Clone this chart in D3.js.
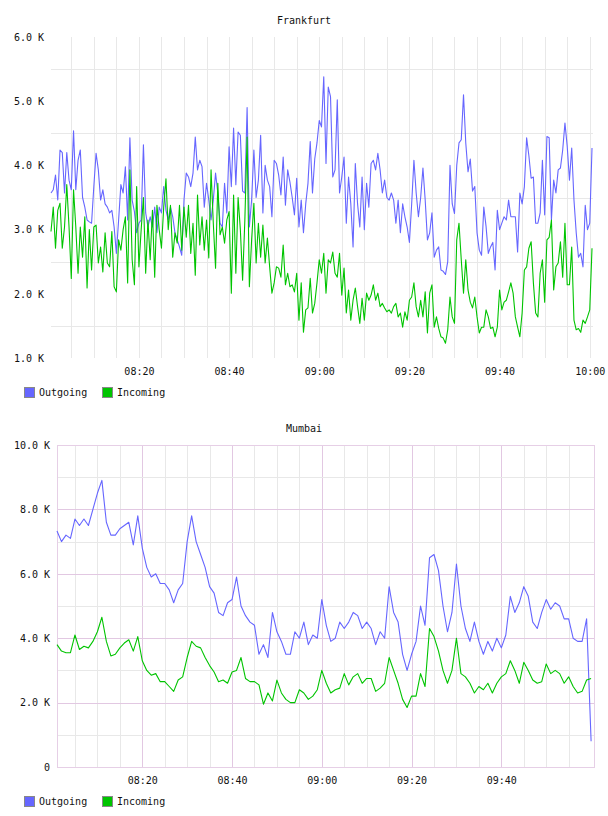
<!DOCTYPE html>
<html>
<head>
<meta charset="utf-8">
<script src="https://cdn.jsdelivr.net/npm/d3@7/dist/d3.min.js"></script>
<style>
  body { margin: 0; background: #fff; }
  text { font-family: "DejaVu Sans Mono", monospace; font-size: 10px; fill: #111; }
</style>
</head>
<body>
<div id="chart"></div>
<script>
// Frankfurt, one sample every 30 s from 08:00:30 (values in K)
const fraOutgoing = [
  3.57, 3.62, 3.85, 3.46, 4.24, 4.2, 3.57, 4.2, 3.77, 3.62,
  4.54, 3.62, 4.08, 4.24, 3.5, 3.35, 3.15, 3.12, 3.1, 3.67,
  4.19, 3.93, 3.46, 3.62, 3.4, 3.35, 3.26, 3.3, 3.04, 2.63,
  3.15, 3.7, 3.57, 3.98, 3.15, 4.43, 3.46, 3.28, 2.95, 3.1,
  3.15, 4.32, 3.26, 3.04, 3.2, 3.04, 3.35, 2.95, 3.35, 3.26,
  3.67, 3.3, 3.15, 3.35, 3.2, 2.95, 2.84, 2.73, 2.6, 3.46,
  3.88, 3.82, 3.67, 3.88, 4.44, 3.93, 4.08, 3.98, 3.35, 3.72,
  3.46, 3.15, 3.46, 3.88, 3.57, 3.1, 3.04, 3.72, 3.26, 4.29,
  3.67, 4.58, 3.7, 4.52, 4.47, 3.6, 3.57, 4.9, 3.04, 3.46,
  4.24, 3.5, 3.77, 4.47, 3.26, 4.0, 3.77, 3.67, 3.2, 4.08,
  4.03, 3.85, 3.54, 4.13, 3.38, 3.93, 3.74, 3.5, 3.23, 3.8,
  3.04, 3.46, 2.95, 3.4, 3.72, 4.37, 3.57, 4.1, 4.35, 4.7,
  4.6, 5.38, 4.03, 5.22, 5.07, 3.82, 3.93, 5.02, 3.57, 3.82,
  4.13, 3.1, 3.82, 3.4, 2.73, 4.03, 3.4, 3.04, 3.82, 3.0,
  3.72, 3.35, 4.03, 4.08, 3.93, 4.19, 3.93, 3.57, 3.77, 3.5,
  3.46, 3.57, 3.46, 3.1, 3.46, 2.95, 3.4, 3.2, 3.04, 2.8,
  3.4, 4.08, 3.57, 3.2, 3.5, 3.96, 3.46, 2.84, 2.95, 3.26,
  2.57, 2.68, 2.73, 2.37, 2.35, 2.3, 2.5, 4.0, 3.4, 3.25,
  4.0, 4.35, 4.4, 5.1, 4.35, 3.9, 4.1, 3.6, 3.67, 2.95,
  2.68, 2.6, 3.35, 3.05, 2.63, 2.73, 2.8, 2.37, 3.3, 3.0,
  3.1, 3.2, 3.15, 3.46, 3.2, 3.2, 3.2, 2.65, 3.57, 3.4,
  3.67, 4.43, 4.15, 3.8, 3.82, 3.1, 3.1, 3.26, 4.08, 3.23,
  4.45, 4.43, 3.15, 3.77, 3.57, 3.93, 3.96, 4.24, 4.66, 4.3,
  3.77, 4.27, 3.46, 2.95, 2.57, 2.63, 2.42, 3.38, 3.0, 3.1, 4.27,
];
const fraIncoming = [
  2.97, 3.35, 2.71, 3.3, 3.41, 2.71, 3.04, 3.7, 3.04, 2.24,
  3.62, 3.04, 2.32, 3.04, 2.57, 3.2, 2.09, 3.0, 2.37, 3.04,
  3.07, 2.48, 2.73, 2.34, 2.95, 2.48, 2.42, 2.97, 2.11, 2.03,
  2.84, 2.68, 3.0, 3.2, 2.17, 3.93, 2.53, 2.14, 3.67, 2.42,
  3.0, 3.5, 2.32, 3.15, 2.53, 3.3, 2.26, 3.38, 3.0, 2.71,
  3.35, 3.79, 3.0, 3.38, 2.57, 2.95, 2.79, 3.38, 2.68, 3.35,
  2.88, 3.38, 2.63, 3.1, 2.29, 3.54, 2.76, 3.2, 2.68, 3.15,
  2.56, 3.93, 3.1, 2.4, 3.72, 2.92, 3.04, 2.79, 3.15, 3.28,
  2.01, 3.54, 2.32, 3.5, 3.0, 2.21, 3.15, 4.44, 2.11, 2.84,
  3.41, 2.48, 3.1, 2.57, 3.07, 2.48, 2.87, 2.42, 2.01, 2.17,
  2.42, 2.4, 2.26, 2.76, 2.14, 2.32, 2.11, 2.14, 2.03, 2.32,
  1.59, 2.17, 1.4, 1.75, 1.78, 2.24, 1.7, 1.85, 2.17, 2.53,
  2.32, 2.63, 2.01, 2.53, 2.48, 2.65, 2.32, 2.26, 2.63, 1.98,
  2.4, 1.7, 2.06, 1.59, 1.9, 2.09, 1.8, 1.54, 1.93, 1.59,
  2.01, 1.9, 1.98, 2.14, 1.9, 2.01, 1.8, 1.85, 1.78, 1.72,
  1.75, 1.7, 1.8, 1.85, 1.64, 1.7, 1.48, 1.72, 1.59, 1.9,
  1.95, 2.17, 1.8, 1.64, 1.9, 1.64, 2.03, 1.39, 2.01, 2.14,
  1.48, 1.64, 1.46, 1.33, 1.31, 1.23, 1.44, 1.95, 1.64, 1.54,
  2.84, 3.1, 2.53, 2.01, 2.53, 2.06, 1.87, 1.78, 1.95, 1.64,
  1.39, 1.48, 1.48, 1.75, 1.64, 1.46, 1.48, 1.33, 1.48, 2.06,
  1.75, 1.87, 1.9, 2.03, 2.17, 2.01, 1.64, 1.48, 1.33, 1.7,
  2.37, 2.42, 2.71, 2.81, 2.17, 1.7, 1.64, 2.32, 2.53, 1.87,
  2.84, 2.88, 3.15, 2.06, 2.42, 2.48, 2.81, 2.26, 3.1, 2.14,
  2.14, 2.73, 1.59, 1.44, 1.46, 1.4, 1.59, 1.54, 1.64, 1.75, 2.71,
];

// Mumbai, one sample per minute from 08:01 (values in K)
const mumOutgoing = [
  7.33, 7.0, 7.2, 7.1, 7.7, 7.5, 7.7, 7.5, 8.0, 8.5,
  8.9, 7.6, 7.2, 7.2, 7.4, 7.5, 7.6, 6.9, 7.8, 6.8,
  6.2, 5.9, 6.0, 5.7, 5.7, 5.5, 5.1, 5.5, 5.7, 7.0,
  7.8, 7.0, 6.6, 6.2, 5.6, 5.4, 4.8, 4.7, 5.1, 5.2,
  5.9, 5.0, 4.7, 4.5, 4.4, 3.5, 3.8, 3.4, 4.8, 4.2,
  3.9, 3.5, 3.5, 4.2, 4.0, 4.5, 3.8, 4.1, 4.0, 5.2,
  4.4, 3.9, 4.0, 4.5, 4.3, 4.5, 4.8, 4.7, 4.3, 4.5,
  4.3, 3.8, 4.2, 4.0, 5.6, 4.8, 4.5, 3.5, 3.0, 3.5,
  3.9, 5.0, 4.4, 6.5, 6.6, 6.1, 5.0, 4.2, 4.8, 6.3,
  5.0, 4.3, 3.9, 4.5, 3.9, 3.5, 3.9, 3.6, 4.0, 3.7,
  4.1, 5.3, 4.8, 5.1, 5.6, 5.3, 4.5, 4.3, 4.8, 5.2,
  4.9, 5.1, 5.0, 4.6, 4.6, 4.0, 3.9, 3.9, 4.6, 0.8,
];
const mumIncoming = [
  3.8, 3.6, 3.55, 3.55, 4.1, 3.65, 3.75, 3.7, 3.9, 4.2,
  4.65, 3.9, 3.45, 3.5, 3.7, 3.85, 3.95, 3.6, 4.05, 3.3,
  3.0, 2.85, 2.9, 2.65, 2.65, 2.5, 2.35, 2.7, 2.8, 3.4,
  3.9, 3.75, 3.7, 3.4, 3.15, 2.95, 2.65, 2.7, 2.6, 2.95,
  3.0, 3.4, 2.75, 2.65, 2.65, 2.55, 1.95, 2.3, 2.05, 2.7,
  2.3, 2.1, 2.0, 2.0, 2.4, 2.3, 2.1, 2.2, 2.4, 3.0,
  2.6, 2.3, 2.4, 2.45, 2.9, 2.55, 2.8, 2.9, 2.6, 2.75,
  2.75, 2.35, 2.45, 2.6, 3.4, 3.0, 2.6, 2.1, 1.85, 2.2,
  2.2, 2.9, 2.5, 4.3, 4.05, 3.6, 3.0, 2.6, 3.0, 4.0,
  2.9, 2.8, 2.6, 2.3, 2.5, 2.4, 2.6, 2.3, 2.6, 2.8,
  2.9, 3.3, 3.0, 2.6, 3.25, 3.0, 2.7, 2.6, 2.65, 3.2,
  2.9, 3.0, 2.9, 2.6, 2.8, 2.5, 2.3, 2.35, 2.7, 2.75,
];

const seriesNames = ['Outgoing', 'Incoming'];
const seriesColors = ['#6666ff', '#00c400'];
const timeLabels = ['08:20', '08:40', '09:00', '09:20', '09:40', '10:00'];
const fraYTicks = [1, 2, 3, 4, 5, 6];
const mumYTicks = [0, 2, 4, 6, 8, 10];

const day = (h, m, s = 0) => new Date(2020, 0, 1, h, m, s);
const parseLabel = (t) => day(+t.slice(0, 2), +t.slice(3, 5));
const series = (values, start, stepSec) => values.map((v, i) => ({
  t: new Date(start.getTime() + i * stepSec * 1000), v,
}));

const width = 608;
const height = 816;
const svg = d3.select('#chart')
  .append('svg')
  .attr('width', width)
  .attr('height', height);

const yLabel = (v) => (v === 0 ? '0' : `${d3.format('.1f')(v)} K`);

const renderPanel = (cfg) => {
  const {
    title, top, bottom, left, right, dataRight, start, end, yDomain,
    yTicks, labels, lines, boxed,
  } = cfg;
  const g = svg.append('g');
  const x = d3.scaleTime().domain([start, end]).range([left, dataRight]);
  const y = d3.scaleLinear().domain(yDomain).range([bottom, top]);

  g.append('text')
    .attr('x', width / 2)
    .attr('y', top - 13)
    .attr('text-anchor', 'middle')
    .text(title);

  // vertical grid every 5 minutes
  const minor = d3.timeMinute.every(5).range(start, end)
    .filter((t) => x(t) > left + 1 && x(t) <= right);
  g.append('g').selectAll('line')
    .data(minor)
    .join('line')
    .attr('x1', (d) => Math.round(x(d)) + 0.5)
    .attr('x2', (d) => Math.round(x(d)) + 0.5)
    .attr('y1', top)
    .attr('y2', bottom)
    .attr('stroke', (d) => (boxed && d.getMinutes() % 20 === 0 ? '#e2c8e2' : '#e8e8e8'));

  // horizontal grid
  const hLines = boxed
    ? d3.range(yDomain[0] + 1, yDomain[1], 1)
    : yTicks.slice(0, -1).map((v) => v + 0.5);
  g.append('g').selectAll('line')
    .data(hLines)
    .join('line')
    .attr('x1', left)
    .attr('x2', right)
    .attr('y1', (d) => Math.round(y(d)) + 0.5)
    .attr('y2', (d) => Math.round(y(d)) + 0.5)
    .attr('stroke', (d) => (boxed && d % 2 === 0 ? '#e2c8e2' : '#e8e8e8'));

  if (boxed) {
    g.append('rect')
      .attr('x', left + 0.5)
      .attr('y', Math.round(top) + 0.5)
      .attr('width', right - left)
      .attr('height', Math.round(bottom - top))
      .attr('fill', 'none')
      .attr('stroke', '#e6cfe6');
  }

  // axes
  const yAxis = g.append('g')
    .attr('transform', `translate(${left - 7},0)`)
    .call(d3.axisLeft(y).tickValues(yTicks).tickSize(0).tickPadding(0).tickFormat(yLabel));
  yAxis.select('.domain').remove();
  yAxis.selectAll('text').attr('font-family', null).attr('font-size', null);

  const xAxis = g.append('g')
    .attr('transform', `translate(0,${bottom + 10})`)
    .call(d3.axisBottom(x).tickValues(labels.map(parseLabel)).tickSize(0).tickPadding(0)
      .tickFormat(d3.timeFormat('%H:%M')));
  xAxis.select('.domain').remove();
  xAxis.selectAll('text').attr('font-family', null).attr('font-size', null);

  // series
  const line = d3.line().x((d) => x(d.t)).y((d) => y(d.v));
  lines.forEach((data, i) => {
    g.append('path')
      .datum(data)
      .attr('d', line)
      .attr('fill', 'none')
      .attr('stroke', seriesColors[i])
      .attr('stroke-width', 1.1)
      .attr('stroke-linejoin', 'round');
  });

  // legend
  const legendY = bottom + 29;
  const legend = g.append('g').attr('transform', `translate(24,${legendY})`);
  const offsets = [0, 78];
  seriesNames.forEach((name, i) => {
    legend.append('rect')
      .attr('x', offsets[i] + 0.5)
      .attr('y', 0.5)
      .attr('width', 10)
      .attr('height', 10)
      .attr('fill', seriesColors[i])
      .attr('stroke', '#888');
    legend.append('text')
      .attr('x', offsets[i] + 15)
      .attr('y', 9)
      .text(name);
  });
};

renderPanel({
  title: 'Frankfurt',
  top: 37,
  bottom: 358,
  left: 51,
  right: 593,
  dataRight: 592,
  start: day(8, 0, 30),
  end: day(10, 0, 30),
  yDomain: [1, 6],
  yTicks: fraYTicks,
  labels: timeLabels,
  lines: [series(fraOutgoing, day(8, 0, 30), 30), series(fraIncoming, day(8, 0, 30), 30)],
  boxed: false,
});

renderPanel({
  title: 'Mumbai',
  top: 445,
  bottom: 767,
  left: 57,
  right: 594,
  dataRight: 591.1,
  start: day(8, 1),
  end: day(10, 0),
  yDomain: [0, 10],
  yTicks: mumYTicks,
  labels: timeLabels.slice(0, -1),
  lines: [series(mumOutgoing, day(8, 1), 60), series(mumIncoming, day(8, 1), 60)],
  boxed: true,
});
</script>
</body>
</html>
